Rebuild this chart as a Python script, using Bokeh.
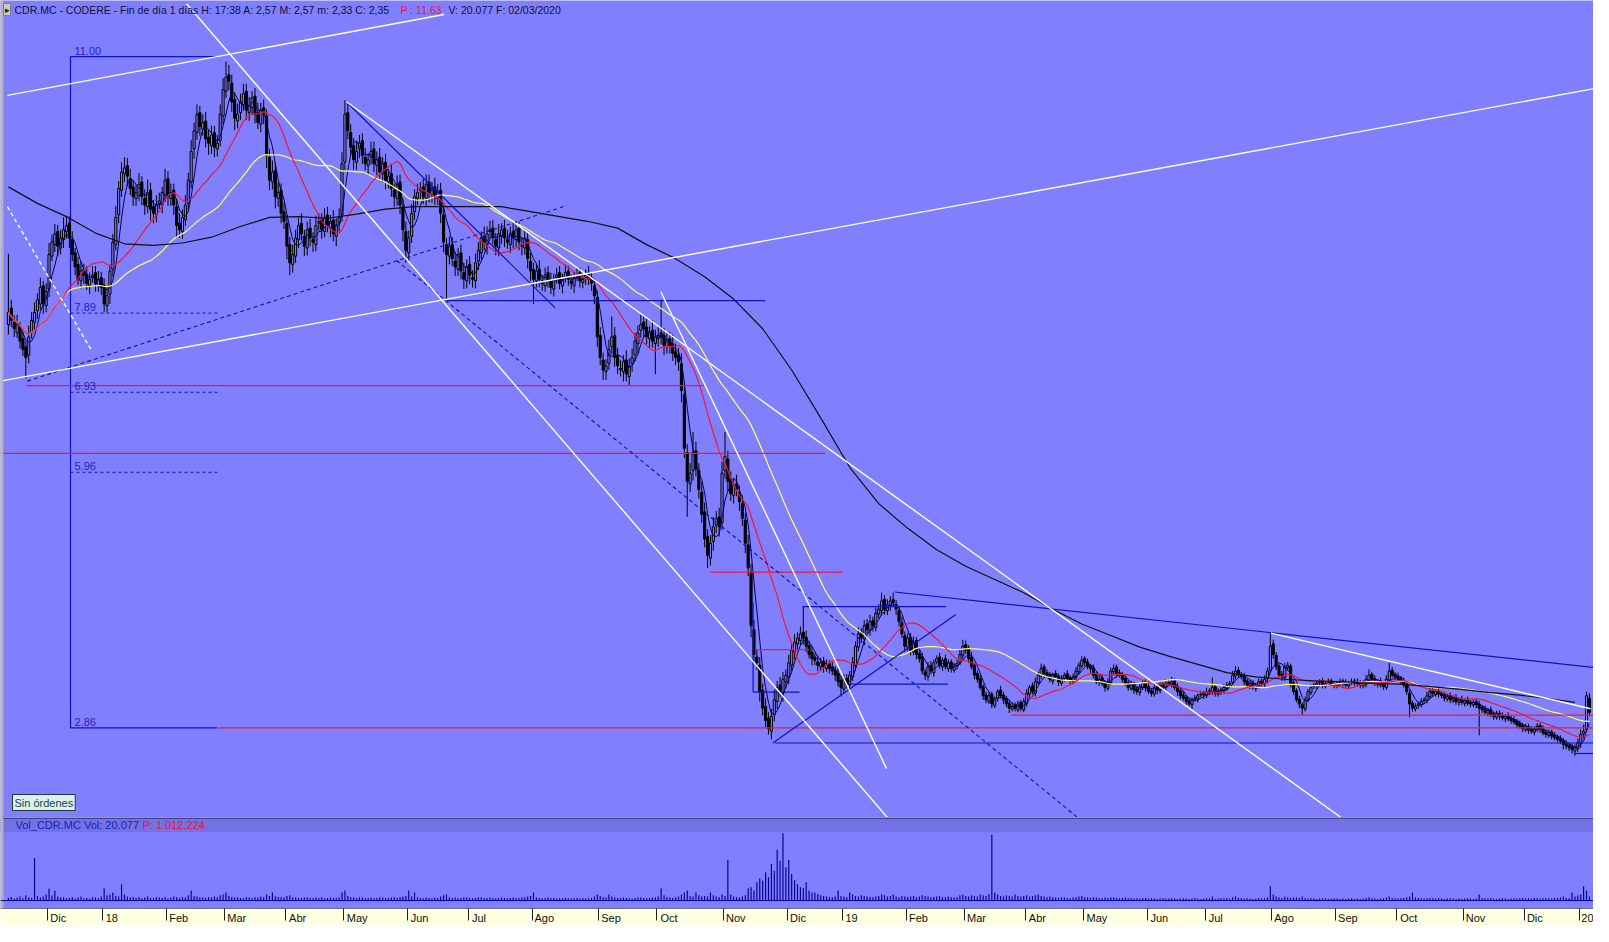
import numpy as np
import pandas as pd
from bokeh.plotting import figure
from bokeh.models import Range1d, FixedTicker, Label, Span, BoxAnnotation, ColumnDataSource
from bokeh.layouts import column
from bokeh.embed import file_html
from bokeh.resources import INLINE

# ---------------- DATA (prices in euro cents, volume in thousands) ----------------
open_c = [
775, 795, 778, 765, 772, 758, 748, 738, 765, 778,
792, 800, 822, 798, 818, 858, 872, 888, 868, 878,
888, 898, 878, 862, 848, 828, 842, 836, 822, 832,
838, 822, 832, 822, 798, 812, 842, 872, 908, 938,
958, 968, 952, 942, 928, 932, 948, 928, 918, 938,
918, 908, 922, 920, 932, 952, 928, 938, 918, 898,
888, 902, 922, 948, 988, 1008, 1032, 1012, 1022, 1002,
992, 1008, 988, 998, 1028, 1058, 1078, 1068, 1048, 1022,
1032, 1042, 1058, 1032, 1038, 1052, 1032, 1018, 1038, 1028,
978, 948, 962, 928, 938, 912, 898, 872, 848, 858,
878, 898, 882, 868, 892, 878, 872, 898, 902, 888,
908, 892, 902, 882, 898, 908, 972, 1032, 1008, 992,
972, 988, 998, 978, 968, 978, 988, 968, 978, 958,
972, 948, 958, 938, 928, 948, 918, 888, 862, 882,
912, 928, 938, 942, 928, 948, 932, 942, 928, 938,
908, 872, 858, 872, 852, 842, 862, 838, 828, 848,
832, 828, 852, 862, 882, 872, 888, 892, 878, 868,
882, 892, 878, 872, 888, 878, 892, 872, 868, 878,
852, 842, 828, 842, 828, 822, 838, 828, 818, 832,
838, 822, 832, 840, 828, 822, 834, 838, 826, 832,
838, 832, 822, 808, 762, 732, 718, 728, 748, 762,
738, 722, 718, 732, 712, 728, 738, 752, 768, 778,
772, 758, 768, 752, 758, 765, 762, 748, 758, 752,
742, 738, 728, 690, 620, 582, 598, 622, 598, 572,
548, 518, 492, 512, 532, 542, 535, 598, 612, 588,
568, 582, 572, 558, 538, 508, 475, 405, 372, 362,
332, 312, 298, 282, 302, 318, 338, 328, 342, 348,
362, 378, 388, 392, 402, 396, 386, 378, 372, 366,
360, 367, 358, 364, 360, 356, 352, 344, 333, 346,
338, 348, 362, 384, 402, 394, 412, 404, 416, 408,
424, 428, 442, 428, 434, 442, 436, 428, 414, 398,
384, 396, 378, 392, 376, 372, 354, 348, 362, 353,
366, 372, 360, 370, 358, 366, 356, 361, 365, 374,
387, 382, 372, 362, 352, 346, 336, 326, 318, 327,
313, 322, 332, 326, 322, 316, 309, 314, 308, 317,
308, 316, 327, 337, 328, 341, 349, 360, 353, 351,
343, 352, 349, 340, 346, 352, 347, 342, 347, 354,
361, 370, 366, 361, 359, 351, 341, 347, 341, 334,
341, 354, 360, 353, 351, 346, 341, 334, 339, 333,
329, 335, 342, 336, 331, 327, 336, 331, 339, 335,
341, 339, 343, 336, 331, 326, 323, 319, 314, 321,
321, 326, 328, 325, 331, 329, 336, 327, 331, 331,
334, 339, 341, 349, 356, 351, 349, 343, 337, 341,
334, 337, 343, 339, 346, 356, 388, 374, 361, 351,
347, 359, 361, 341, 331, 321, 314, 309, 321, 329,
336, 337, 341, 343, 337, 341, 343, 339, 337, 341,
343, 341, 337, 341, 343, 342, 341, 337, 339, 344,
351, 346, 339, 343, 339, 335, 344, 356, 351, 349,
346, 343, 339, 328, 316, 309, 313, 314, 319, 319,
324, 331, 327, 331, 328, 326, 321, 325, 319, 323,
317, 321, 316, 320, 317, 314, 318, 315, 311, 309,
304, 308, 303, 299, 304, 301, 297, 301, 298, 296,
294, 291, 289, 284, 288, 284, 281, 284, 289, 285,
281, 277, 281, 277, 275, 273, 271, 267, 265, 263,
258, 261, 267, 279, 284, 322]

close_c = [
790, 780, 770, 775, 755, 745, 735, 760, 780, 790,
805, 820, 800, 815, 860, 875, 885, 870, 880, 890,
895, 880, 860, 845, 830, 840, 835, 825, 830, 835,
825, 830, 820, 800, 810, 840, 875, 905, 940, 960,
965, 955, 940, 930, 935, 945, 930, 920, 935, 915,
910, 920, 925, 935, 950, 930, 935, 920, 895, 890,
905, 920, 950, 985, 1010, 1030, 1015, 1020, 1000, 995,
1005, 990, 995, 1030, 1060, 1075, 1070, 1045, 1025, 1030,
1045, 1055, 1035, 1040, 1050, 1030, 1020, 1035, 1030, 980,
950, 960, 930, 935, 910, 900, 870, 850, 860, 880,
895, 885, 870, 890, 880, 875, 895, 900, 890, 905,
895, 900, 885, 895, 905, 970, 1030, 1010, 990, 975,
985, 995, 980, 970, 975, 985, 970, 975, 960, 970,
950, 955, 940, 930, 945, 920, 890, 865, 880, 910,
930, 935, 940, 930, 945, 935, 940, 930, 935, 910,
875, 860, 870, 855, 845, 860, 840, 830, 845, 835,
830, 850, 865, 880, 875, 885, 890, 880, 870, 885,
890, 880, 875, 885, 880, 890, 875, 870, 880, 855,
840, 830, 840, 830, 825, 835, 830, 820, 830, 835,
825, 830, 838, 830, 825, 832, 835, 828, 830, 835,
830, 825, 810, 760, 735, 720, 725, 745, 760, 735,
725, 720, 730, 715, 725, 735, 755, 765, 775, 770,
760, 765, 755, 760, 762, 760, 750, 755, 750, 740,
735, 730, 695, 625, 585, 595, 620, 600, 575, 545,
515, 495, 510, 530, 540, 530, 595, 615, 585, 570,
580, 575, 560, 540, 510, 480, 410, 375, 365, 330,
310, 295, 285, 300, 320, 335, 330, 345, 350, 365,
380, 390, 395, 400, 395, 385, 375, 370, 368, 362,
365, 360, 362, 358, 355, 350, 342, 335, 345, 340,
350, 365, 385, 400, 395, 410, 405, 415, 410, 425,
430, 440, 430, 435, 440, 438, 430, 415, 400, 385,
395, 380, 390, 375, 370, 355, 350, 360, 355, 365,
370, 362, 368, 360, 365, 358, 360, 364, 375, 385,
380, 370, 360, 350, 345, 335, 325, 320, 325, 315,
320, 330, 325, 320, 315, 310, 312, 310, 315, 310,
318, 328, 335, 330, 342, 350, 358, 352, 350, 345,
350, 348, 342, 345, 350, 346, 344, 348, 355, 362,
368, 365, 360, 358, 350, 342, 345, 340, 335, 342,
355, 358, 352, 350, 345, 340, 335, 338, 332, 330,
336, 340, 335, 330, 328, 335, 332, 338, 336, 340,
340, 342, 335, 330, 325, 322, 318, 315, 320, 322,
325, 327, 326, 330, 330, 335, 328, 330, 332, 335,
338, 340, 350, 355, 352, 348, 342, 338, 340, 335,
338, 342, 340, 345, 355, 385, 375, 360, 350, 348,
360, 362, 340, 330, 320, 315, 310, 320, 330, 335,
338, 340, 342, 338, 340, 342, 340, 338, 340, 342,
340, 338, 340, 342, 341, 340, 338, 340, 345, 350,
345, 340, 342, 338, 336, 345, 355, 350, 348, 345,
342, 338, 330, 315, 310, 312, 315, 318, 320, 325,
330, 328, 330, 327, 325, 322, 324, 320, 322, 318,
320, 317, 319, 316, 315, 317, 314, 310, 308, 305,
307, 302, 300, 303, 300, 298, 300, 297, 295, 293,
290, 288, 285, 287, 283, 282, 285, 288, 284, 280,
278, 280, 276, 274, 272, 270, 266, 264, 262, 260,
262, 268, 278, 282, 325, 305]

wick_up_c = [
71, 10, 8, 12, 6, 9, 7, 14, 10, 12,
8, 12, 6, 10, 14, 9, 12, 8, 10, 15,
12, 8, 10, 6, 9, 12, 7, 10, 8, 11,
8, 10, 7, 9, 12, 8, 10, 14, 9, 12,
13, 9, 12, 8, 10, 14, 7, 11, 16, 9,
8, 12, 10, 7, 14, 9, 11, 8, 10, 12,
10, 12, 9, 14, 10, 12, 8, 10, 11, 9,
11, 8, 10, 12, 14, 19, 12, 10, 9, 13,
10, 12, 9, 11, 8, 10, 12, 9, 10, 8,
10, 14, 9, 12, 8, 11, 10, 9, 12, 10,
9, 12, 8, 10, 11, 9, 12, 10, 8, 11,
10, 8, 12, 9, 11, 14, 17, 12, 10, 9,
12, 10, 9, 11, 8, 12, 9, 10, 11, 8,
10, 9, 12, 8, 11, 9, 10, 12, 9, 11,
9, 11, 8, 10, 12, 9, 8, 11, 10, 9,
10, 8, 12, 9, 11, 8, 10, 12, 9, 10,
9, 11, 10, 8, 12, 9, 11, 10, 8, 12,
8, 10, 12, 9, 11, 10, 8, 9, 11, 10,
10, 8, 9, 11, 7, 9, 8, 10, 7, 9,
8, 7, 9, 6, 8, 7, 9, 6, 8, 7,
8, 6, 9, 8, 10, 9, 8, 12, 25, 10,
9, 10, 8, 12, 9, 11, 10, 9, 12, 8,
10, 8, 12, 9, 11, 40, 9, 10, 8, 11,
10, 9, 12, 15, 10, 12, 25, 11, 9, 12,
11, 9, 10, 12, 9, 11, 14, 30, 10, 9,
9, 11, 8, 10, 9, 12, 10, 12, 9, 10,
8, 10, 7, 9, 12, 8, 10, 9, 7, 10,
8, 10, 7, 9, 31, 8, 6, 7, 5, 8,
6, 5, 7, 4, 6, 5, 7, 4, 6, 5,
5, 7, 6, 8, 5, 7, 6, 8, 5, 7,
6, 10, 5, 7, 6, 8, 5, 6, 7, 5,
6, 5, 7, 4, 6, 5, 4, 6, 5, 4,
4, 5, 3, 5, 4, 3, 5, 4, 6, 8,
5, 4, 6, 3, 4, 5, 3, 4, 5, 3,
4, 3, 5, 4, 3, 4, 5, 3, 4, 3,
4, 5, 3, 4, 5, 4, 6, 3, 4, 3,
3, 4, 3, 5, 3, 4, 3, 4, 5, 4,
5, 3, 4, 3, 4, 3, 5, 4, 3, 4,
4, 5, 3, 4, 3, 4, 3, 5, 3, 4,
3, 4, 3, 5, 3, 4, 3, 4, 3, 5,
4, 6, 3, 4, 3, 5, 3, 4, 3, 4,
3, 4, 3, 5, 3, 12, 3, 4, 3, 4,
4, 3, 5, 6, 4, 3, 4, 3, 5, 3,
3, 4, 3, 5, 4, 16, 5, 4, 3, 4,
5, 4, 3, 4, 3, 4, 3, 4, 3, 4,
3, 4, 3, 4, 3, 4, 3, 4, 3, 4,
3, 4, 3, 4, 3, 4, 3, 4, 5, 7,
3, 4, 3, 4, 3, 5, 10, 4, 3, 4,
3, 4, 3, 4, 3, 4, 3, 4, 3, 5,
5, 4, 3, 4, 3, 4, 3, 4, 3, 4,
3, 4, 3, 4, 3, 4, 3, 4, 3, 4,
3, 4, 3, 4, 3, 4, 3, 4, 3, 4,
3, 4, 3, 4, 3, 4, 3, 4, 3, 4,
3, 4, 3, 4, 3, 4, 3, 4, 3, 4,
4, 5, 6, 8, 5, 6]

wick_dn_c = [
12, 8, 10, 6, 9, 8, 25, 10, 7, 9,
10, 7, 12, 8, 10, 6, 9, 12, 8, 10,
9, 12, 8, 10, 7, 9, 11, 8, 10, 6,
10, 7, 9, 10, 8, 12, 9, 7, 10, 8,
10, 12, 8, 11, 9, 7, 10, 12, 8, 14,
12, 9, 7, 10, 8, 11, 9, 12, 15, 10,
9, 7, 10, 8, 12, 9, 11, 8, 10, 14,
10, 12, 9, 7, 10, 8, 11, 12, 14, 9,
9, 8, 12, 10, 9, 11, 8, 10, 12, 15,
12, 9, 14, 10, 12, 9, 16, 15, 10, 8,
10, 8, 12, 9, 10, 12, 8, 9, 11, 7,
8, 11, 9, 12, 10, 8, 12, 10, 9, 12,
9, 11, 10, 8, 12, 9, 10, 12, 8, 10,
11, 8, 10, 12, 9, 11, 14, 15, 10, 8,
10, 8, 11, 9, 10, 12, 9, 10, 8, 12,
12, 55, 10, 9, 11, 8, 10, 12, 9, 11,
10, 9, 11, 8, 10, 12, 9, 8, 11, 10,
9, 11, 8, 10, 12, 9, 10, 11, 8, 12,
12, 30, 8, 10, 9, 7, 10, 8, 9, 7,
7, 9, 6, 8, 7, 9, 6, 8, 7, 9,
7, 9, 10, 12, 9, 12, 10, 8, 9, 11,
10, 8, 12, 9, 11, 10, 8, 12, 9, 10,
9, 11, 8, 37, 10, 9, 12, 8, 10, 9,
9, 11, 14, 12, 43, 10, 12, 9, 11, 10,
10, 15, 9, 11, 10, 12, 9, 10, 12, 9,
10, 8, 11, 9, 12, 10, 14, 10, 9, 12,
9, 8, 7, 10, 8, 9, 7, 10, 8, 9,
7, 9, 8, 6, 8, 7, 5, 8, 6, 7,
5, 7, 4, 6, 5, 7, 6, 11, 5, 6,
6, 5, 7, 5, 6, 8, 5, 6, 7, 5,
5, 6, 7, 5, 6, 5, 7, 6, 5, 7,
5, 6, 4, 6, 5, 4, 6, 5, 4, 5,
3, 4, 5, 3, 4, 5, 3, 4, 3, 5,
4, 5, 3, 5, 4, 3, 5, 4, 3, 5,
3, 4, 3, 5, 4, 6, 3, 4, 3, 4,
3, 4, 5, 3, 4, 3, 4, 5, 3, 4,
4, 3, 5, 3, 4, 3, 5, 3, 4, 3,
3, 4, 3, 5, 4, 3, 4, 3, 5, 3,
3, 4, 5, 3, 4, 3, 4, 3, 5, 4,
4, 3, 5, 3, 4, 3, 5, 3, 4, 3,
3, 4, 3, 5, 4, 3, 4, 3, 5, 3,
4, 3, 5, 3, 4, 3, 4, 3, 5, 3,
3, 4, 3, 4, 5, 3, 4, 3, 4, 3,
4, 3, 4, 3, 5, 4, 5, 4, 3, 5,
4, 3, 5, 4, 3, 5, 8, 3, 4, 3,
3, 4, 3, 4, 3, 4, 3, 4, 3, 4,
4, 3, 4, 3, 4, 3, 4, 3, 4, 3,
4, 3, 4, 3, 4, 3, 4, 3, 4, 3,
4, 3, 4, 16, 4, 3, 4, 3, 4, 3,
3, 4, 3, 4, 3, 4, 3, 4, 3, 4,
4, 3, 4, 3, 4, 3, 4, 33, 4, 3,
4, 3, 4, 3, 4, 3, 4, 3, 4, 3,
4, 3, 4, 3, 4, 3, 4, 3, 4, 3,
4, 3, 4, 3, 4, 3, 6, 4, 4, 5,
6, 4, 5, 6, 3, 5]

volume_k = [
40, 55, 30, 45, 60, 35, 80, 50, 40, 640,
70, 45, 60, 90, 180, 75, 150, 60, 45, 50,
35, 40, 55, 30, 45, 60, 35, 40, 30, 50,
45, 35, 60, 184, 80, 90, 120, 70, 60, 245,
90, 60, 45, 50, 40, 55, 35, 45, 60, 40,
35, 50, 45, 40, 55, 30, 45, 60, 50, 40,
55, 45, 80, 150, 70, 60, 50, 45, 40, 55,
45, 60, 50, 80, 90, 122, 70, 55, 45, 50,
40, 35, 50, 45, 40, 55, 45, 60, 50, 90,
70, 122, 60, 55, 50, 45, 70, 80, 50, 45,
40, 35, 45, 50, 40, 35, 45, 40, 50, 35,
40, 45, 35, 40, 50, 122, 150, 70, 55, 45,
40, 50, 45, 35, 40, 45, 35, 40, 50, 45,
40, 35, 45, 50, 40, 55, 60, 70, 153, 60,
122, 50, 40, 35, 45, 40, 35, 45, 40, 60,
80, 90, 50, 40, 45, 35, 40, 50, 45, 40,
35, 40, 45, 50, 40, 35, 45, 40, 35, 40,
45, 40, 35, 40, 45, 40, 35, 45, 50, 60,
70, 122, 45, 40, 35, 40, 45, 35, 40, 30,
35, 30, 40, 35, 30, 35, 40, 30, 35, 30,
35, 40, 60, 90, 70, 50, 45, 92, 60, 45,
40, 35, 45, 40, 35, 30, 40, 45, 50, 40,
35, 40, 45, 50, 60, 184, 80, 55, 45, 40,
50, 60, 90, 122, 153, 70, 60, 122, 80, 60,
70, 60, 122, 80, 60, 50, 90, 70, 612, 90,
60, 50, 45, 60, 80, 184, 200, 150, 275, 337,
300, 428, 350, 551, 450, 765, 600, 1012, 500, 612,
400, 306, 250, 200, 184, 275, 150, 120, 122, 100,
80, 70, 60, 55, 50, 60, 153, 70, 60, 50,
122, 90, 70, 60, 80, 70, 60, 55, 50, 60,
70, 90, 80, 60, 70, 90, 60, 50, 70, 60,
55, 60, 70, 50, 60, 80, 70, 60, 50, 55,
60, 70, 50, 55, 60, 50, 45, 55, 80, 90,
70, 60, 80, 70, 60, 90, 80, 70, 100, 990,
122, 90, 70, 60, 80, 70, 60, 90, 70, 60,
70, 80, 60, 70, 80, 90, 70, 60, 50, 60,
50, 45, 40, 50, 45, 40, 35, 45, 50, 60,
70, 50, 45, 40, 50, 45, 40, 35, 45, 40,
50, 45, 40, 35, 40, 45, 35, 40, 30, 35,
30, 35, 40, 30, 35, 30, 25, 30, 35, 30,
30, 35, 30, 25, 30, 35, 30, 25, 30, 35,
30, 25, 30, 35, 30, 60, 25, 30, 35, 30,
35, 30, 50, 60, 40, 35, 30, 35, 30, 25,
30, 35, 30, 35, 50, 214, 90, 60, 45, 40,
60, 50, 40, 45, 50, 40, 60, 35, 30, 35,
30, 25, 30, 35, 30, 25, 30, 35, 30, 25,
30, 25, 30, 35, 25, 30, 25, 30, 40, 50,
35, 30, 25, 30, 35, 45, 60, 40, 35, 30,
35, 40, 50, 60, 122, 45, 40, 35, 30, 35,
40, 35, 30, 35, 30, 25, 30, 35, 30, 25,
30, 25, 30, 35, 30, 25, 30, 92, 40, 35,
30, 35, 30, 25, 30, 35, 30, 25, 30, 35,
30, 35, 40, 30, 35, 30, 40, 35, 30, 35,
40, 35, 30, 35, 40, 45, 60, 40, 35, 122,
60, 80, 90, 214, 150, 60]

# long moving average (black), read every 10 sessions
long_ma_step = 10
long_ma = [9.42, 9.22, 9.06, 8.86, 8.73, 8.71, 8.74, 8.81, 8.94, 9.05,
           9.06, 9.04, 9.09, 9.15, 9.18, 9.18, 9.18, 9.18, 9.12, 9.06,
           9.00, 8.92, 8.72, 8.55, 8.33, 8.06, 7.70, 7.20, 6.62, 6.02,
           5.58, 5.28, 5.02, 4.82, 4.66, 4.50, 4.30, 4.12, 3.98, 3.84,
           3.73, 3.63, 3.53, 3.48, 3.45, 3.43, 3.42, 3.40, 3.39, 3.36,
           3.33, 3.29, 3.26, 3.22, 3.17]

# month axis (session index where each month starts)
month_idx = [14, 33, 55, 75, 96, 116, 138, 159, 181, 204, 224, 247, 269,
             288, 310, 330, 351, 371, 393, 413, 436, 458, 479, 502, 523, 542]
month_lbl = ["Dic", "18", "Feb", "Mar", "Abr", "May", "Jun", "Jul", "Ago", "Sep", "Oct", "Nov", "Dic",
             "19", "Feb", "Mar", "Abr", "May", "Jun", "Jul", "Ago", "Sep", "Oct", "Nov", "Dic", "20"]

# drawn studies: (index0, price0, index1, price1)
white_lines = [(-0.34, 10.53, 150.2, 11.51), (-2.73, 7.065, 546.4, 10.61),
               (61.4, 11.64, 303.0, 1.774), (116.4, 10.455, 459.4, 1.774),
               (224.9, 8.148, 302.7, 2.367), (435.2, 4.009, 545.4, 3.093)]
white_dashed = [(-0.34, 9.18, 28.7, 7.434)]
blue_lines = [(151.2, 8.04, 260.8, 8.04), (116.4, 10.455, 188.4, 7.957),
              (273.7, 4.33, 323.2, 4.33), (289.8, 3.39, 323.9, 3.39),
              (256.7, 3.295, 272.7, 3.295), (256.7, 4.38, 256.7, 3.295),
              (263.5, 2.677, 326.6, 4.235), (305.5, 4.508, 546.4, 3.593),
              (264.2, 2.677, 546.4, 2.677), (539.6, 2.55, 546.4, 2.55)]
navy_dashed = [(6.5, 7.065, 192.5, 9.194), (133.8, 8.528, 368.6, 1.774)]
red_lines = [(6.1, 7.01, 240.0, 7.01), (-2.73, 6.19, 281.6, 6.19), (242.0, 4.75, 287.7, 4.75),
             (72.4, 2.86, 546.4, 2.86), (345.7, 3.015, 546.4, 3.015), (258.4, 3.81, 276.1, 3.81)]
fib_levels = [11.00, 7.89, 6.93, 5.96, 2.86]
fib_x = (21.4, 72.0)

# ---------------- PREP ----------------
n = min(len(open_c), len(close_c), len(wick_up_c), len(wick_dn_c), len(volume_k))
idx = np.arange(n)
o = np.array(open_c[:n]) / 100.0
c = np.array(close_c[:n]) / 100.0
hi = np.maximum(o, c) + np.array(wick_up_c[:n]) / 100.0
lo = np.minimum(o, c) - np.array(wick_dn_c[:n]) / 100.0
vol = np.array(volume_k[:n])
cs = pd.Series(c)
ma5 = cs.rolling(5, min_periods=1).mean()
ma20 = cs.rolling(20, min_periods=1).mean()
ma50 = cs.rolling(50, min_periods=1).mean()

BG = "#8080FF"
FONT = "Liberation Sans"
W = 1593
HP = 817
XR = Range1d(-2.73, 546.4)

p = figure(width=W, height=HP, x_range=XR, y_range=Range1d(1.774, 11.68),
           output_backend="svg", toolbar_location=None, x_axis_location=None, y_axis_location=None,
           min_border=0, background_fill_color=BG, border_fill_color=BG, outline_line_color=None)
p.grid.visible = False

def seg_source(lst):
    return ColumnDataSource(dict(x0=[s[0] for s in lst], y0=[s[1] for s in lst],
                                 x1=[s[2] for s in lst], y1=[s[3] for s in lst]))

# fibonacci box
p.segment(x0=[fib_x[0]], y0=[fib_levels[-1]], x1=[fib_x[0]], y1=[fib_levels[0]], line_color="#1010D0", line_width=1.2)
p.segment(x0=[fib_x[0]] * 2, y0=[fib_levels[0], fib_levels[-1]], x1=[fib_x[1]] * 2, y1=[fib_levels[0], fib_levels[-1]],
          line_color="#1010D0", line_width=1.2)
p.segment(x0=[fib_x[0]] * 3, y0=fib_levels[1:4], x1=[fib_x[1]] * 3, y1=fib_levels[1:4],
          line_color="#1010B0", line_width=1, line_dash="3 3")
for lv in fib_levels:
    p.add_layout(Label(x=fib_x[0], y=lv, x_offset=4, y_offset=2, text=f"{lv:.2f}", text_font=FONT,
                       text_font_size="11px", text_color="#2020C8", text_baseline="bottom"))

# candles
src = ColumnDataSource(dict(x=idx, o=o, c=c, h=hi, l=lo))
up = c >= o
src_up = ColumnDataSource(dict(x=idx[up], o=o[up], c=c[up]))
src_dn = ColumnDataSource(dict(x=idx[~up], o=o[~up], c=c[~up]))
p.segment(x0="x", y0="l", x1="x", y1="h", source=src, line_color="black", line_width=1)
p.vbar(x="x", width=0.74, top="c", bottom="o", source=src_up, fill_color=BG, line_color="black", line_width=1)
p.vbar(x="x", width=0.74, top="o", bottom="c", source=src_dn, fill_color="black", line_color="black", line_width=1)

# moving averages
p.line(idx, ma5, line_color="#000060", line_width=1)
p.line(idx, ma50, line_color="#FFFF66", line_width=1.2)
p.line(idx, ma20, line_color="#F01838", line_width=1.2)
p.line(np.arange(len(long_ma)) * long_ma_step, long_ma, line_color="#101010", line_width=1.2)

# studies
p.segment(x0="x0", y0="y0", x1="x1", y1="y1", source=seg_source(red_lines), line_color="#F01838", line_width=1.2)
p.segment(x0="x0", y0="y0", x1="x1", y1="y1", source=seg_source(blue_lines), line_color="#1010C0", line_width=1.2)
p.segment(x0="x0", y0="y0", x1="x1", y1="y1", source=seg_source(navy_dashed), line_color="#1010A0", line_width=1.1, line_dash="4 3")
p.segment(x0="x0", y0="y0", x1="x1", y1="y1", source=seg_source(white_lines), line_color="white", line_width=1.4)
p.segment(x0="x0", y0="y0", x1="x1", y1="y1", source=seg_source(white_dashed), line_color="white", line_width=1.4, line_dash="4 3")

# left grey border
p.add_layout(BoxAnnotation(right=-1.7, fill_color="#B4B4B4", fill_alpha=1, line_color=None))

# header
HF = "10.5px"
p.add_layout(Label(x=3, y=HP - 3, x_units="screen", y_units="screen", text_baseline="top",
                   text="▸", text_font=FONT, text_font_size="9px", text_color="#202020",
                   background_fill_color="#C8C8C8", border_line_color="#808080", padding=1))
p.add_layout(Label(x=14, y=HP - 3, x_units="screen", y_units="screen", text_baseline="top",
                   text="CDR.MC - CODERE - Fin de día 1 días  H: 17:38  A: 2,57  M: 2,57  m: 2,33  C: 2,35",
                   text_font=FONT, text_font_size=HF, text_color="#101038"))
p.add_layout(Label(x=400, y=HP - 3, x_units="screen", y_units="screen", text_baseline="top",
                   text="P : 11,63", text_font=FONT, text_font_size=HF, text_color="#F01040"))
p.add_layout(Label(x=448, y=HP - 3, x_units="screen", y_units="screen", text_baseline="top",
                   text="V: 20.077  F: 02/03/2020", text_font=FONT, text_font_size=HF, text_color="#101038"))
p.add_layout(Label(x=12, y=7, x_units="screen", y_units="screen", text_baseline="bottom",
                   text="Sin órdenes", text_font=FONT, text_font_size="11px", text_color="#104848",
                   background_fill_color="#DCEEEE", border_line_color="#203838", padding=2))

# ---------------- VOLUME PANEL ----------------
pv = figure(width=W, height=109, x_range=XR, y_range=Range1d(-119, 1250),
            output_backend="svg", toolbar_location=None, y_axis_location=None, x_axis_location="below",
            min_border=0, min_border_bottom=17, background_fill_color=BG, border_fill_color="#FFFFE1",
            outline_line_color=None)
pv.grid.visible = False
pv.add_layout(BoxAnnotation(bottom=1027, top=1236, fill_color="#7272E6", fill_alpha=1, line_color=None))
pv.add_layout(BoxAnnotation(bottom=1236, fill_color="#101010", fill_alpha=1, line_color=None))
pv.add_layout(BoxAnnotation(right=-1.7, fill_color="#B4B4B4", fill_alpha=1, line_color=None))
pv.vbar(x=idx, top=vol, width=0.4, fill_color="#000090", line_color=None)
pv.add_layout(Span(location=0, dimension="width", line_color="#000090", line_width=1))
pv.add_layout(Label(x=15, y=1130, x_units="screen", text_baseline="middle",
                    text="Vol_CDR.MC  Vol: 20.077", text_font=FONT, text_font_size="11px", text_color="#2020B0"))
pv.add_layout(Label(x=142, y=1130, x_units="screen", text_baseline="middle",
                    text="P: 1.012.224", text_font=FONT, text_font_size="11px", text_color="#F01040"))

# month labels start just right of their tick: pad centred labels with no-break spaces
CHAR_EM = {"D": .722, "i": .222, "c": .5, "1": .556, "8": .556, "9": .556, "2": .556, "0": .556,
           "F": .611, "e": .556, "b": .556, "M": .833, "a": .556, "r": .333, "A": .667, "y": .5,
           "J": .5, "u": .556, "n": .556, "l": .222, "g": .556, "o": .556, "S": .667, "p": .556,
           "O": .778, "t": .278, "N": .722, "v": .5}
LBL_PX = 11

def left_aligned(lbl, gap=3):
    w = sum(CHAR_EM.get(ch, .55) for ch in lbl) * LBL_PX
    k = max(0, int(round((w + 2 * gap) / (0.278 * LBL_PX))))
    return "\u00a0" * k + lbl

ticks = [m - 0.5 for m in month_idx]
ax = pv.xaxis[0]
ax.ticker = FixedTicker(ticks=ticks)
ax.major_label_overrides = {t: left_aligned(l) for t, l in zip(ticks, month_lbl)}
ax.major_tick_in = 0
ax.major_tick_out = 12
ax.minor_tick_line_color = None
ax.major_label_standoff = -9
ax.major_label_text_font = FONT
ax.major_label_text_font_size = f"{LBL_PX}px"
ax.major_label_text_color = "#101010"
ax.axis_line_color = "#707070"
ax.major_tick_line_color = "#202020"
ax.major_tick_line_width = 1

layout = column(p, pv, spacing=0)
open("out.html", "w").write(file_html(layout, INLINE))
